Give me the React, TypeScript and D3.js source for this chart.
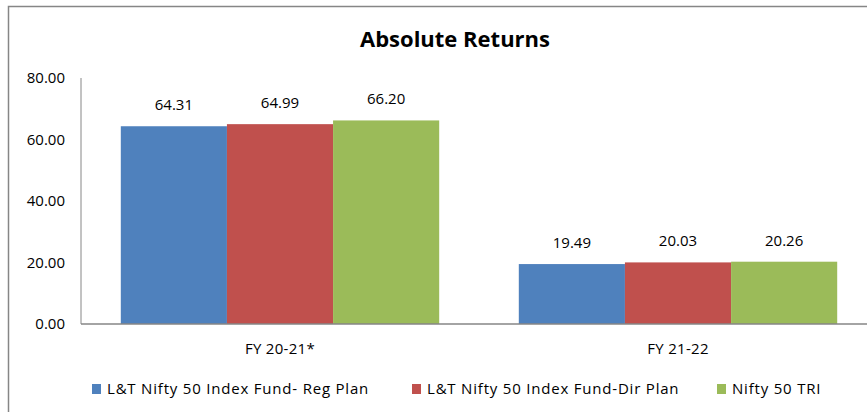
import { useEffect, useRef } from 'react';
import * as d3 from 'd3';

const categories = ['FY 20-21*', 'FY 21-22'];
const seriesNames = [
  'L&T Nifty 50 Index Fund- Reg Plan',
  'L&T Nifty 50 Index Fund-Dir Plan',
  'Nifty 50 TRI',
];
const regPlan = [64.31, 19.49];
const dirPlan = [64.99, 20.03];
const niftyTri = [66.2, 20.26];
const yTicks = [0, 20, 40, 60, 80];
const colors = ['#4F81BD', '#C0504D', '#9BBB59'];

const W = 867;
const H = 412;
const FONT = '"Open Sans", sans-serif';

export default function App() {
  const ref = useRef<SVGSVGElement>(null);

  useEffect(() => {
    if (!ref.current) return;
    document.body.style.margin = '0';
    const svg = d3.select(ref.current);
    svg.selectAll('*').remove();

    const series = [regPlan, dirPlan, niftyTri];
    const left = 81;
    const right = 877;
    const top = 78;
    const bottom = 324;

    const x0 = d3.scaleBand().domain(categories).range([left, right]).paddingInner(0.2).paddingOuter(0.1);
    const x1 = d3.scaleBand().domain(seriesNames).range([0, x0.bandwidth()]);
    const y = d3.scaleLinear().domain([0, 80]).range([bottom, top]);

    // chart border
    svg.append('rect')
      .attr('x', 8.5).attr('y', 6.5)
      .attr('width', W).attr('height', H)
      .attr('fill', '#fff')
      .attr('stroke', '#868686').attr('stroke-width', 1.5);

    svg.append('text')
      .attr('x', 455).attr('y', 47)
      .attr('text-anchor', 'middle')
      .style('font-family', FONT)
      .style('font-size', '22px')
      .style('font-weight', 'bold')
      .style('fill', '#000')
      .text('Absolute Returns');

    // y axis labels
    svg.selectAll('.ytick')
      .data(yTicks)
      .join('text')
      .attr('x', 65)
      .attr('y', d => y(d))
      .attr('dy', '0.35em')
      .attr('text-anchor', 'end')
      .style('font-family', FONT)
      .style('font-size', '15px')
      .style('fill', '#000')
      .text(d => d.toFixed(2));

    // bars
    categories.forEach((cat, ci) => {
      const g = svg.append('g').attr('transform', `translate(${x0(cat)},0)`);
      series.forEach((vals, si) => {
        const v = vals[ci];
        g.append('rect')
          .attr('x', x1(seriesNames[si])!)
          .attr('y', y(v))
          .attr('width', x1.bandwidth())
          .attr('height', y(0) - y(v))
          .attr('fill', colors[si]);
        g.append('text')
          .attr('x', x1(seriesNames[si])! + x1.bandwidth() / 2)
          .attr('y', y(v) - 16)
          .attr('text-anchor', 'middle')
          .style('font-family', FONT)
          .style('font-size', '15px')
          .style('fill', '#000')
          .text(v.toFixed(2));
      });
      svg.append('text')
        .attr('x', x0(cat)! + x0.bandwidth() / 2)
        .attr('y', 354)
        .attr('text-anchor', 'middle')
        .style('font-family', FONT)
        .style('font-size', '15px')
        .style('letter-spacing', '0.3px')
        .style('fill', '#000')
        .text(cat);
    });

    // axes lines
    svg.append('line')
      .attr('x1', left).attr('x2', W)
      .attr('y1', bottom).attr('y2', bottom)
      .attr('stroke', '#868686').attr('stroke-width', 1.5);
    svg.append('line')
      .attr('x1', left).attr('x2', left)
      .attr('y1', top).attr('y2', bottom)
      .attr('stroke', '#868686').attr('stroke-width', 1);

    // legend
    const legendX = [92, 412, 717];
    seriesNames.forEach((name, i) => {
      svg.append('rect')
        .attr('x', legendX[i]).attr('y', 384)
        .attr('width', 9).attr('height', 10)
        .attr('fill', colors[i]);
      svg.append('text')
        .attr('x', legendX[i] + 15).attr('y', 394)
        .style('font-family', FONT)
        .style('font-size', '15px')
        .style('letter-spacing', '0.8px')
        .style('fill', '#000')
        .text(name);
    });
  }, []);

  return (
    <svg ref={ref} width={W} height={H} style={{ display: 'block' }} />
  );
}
